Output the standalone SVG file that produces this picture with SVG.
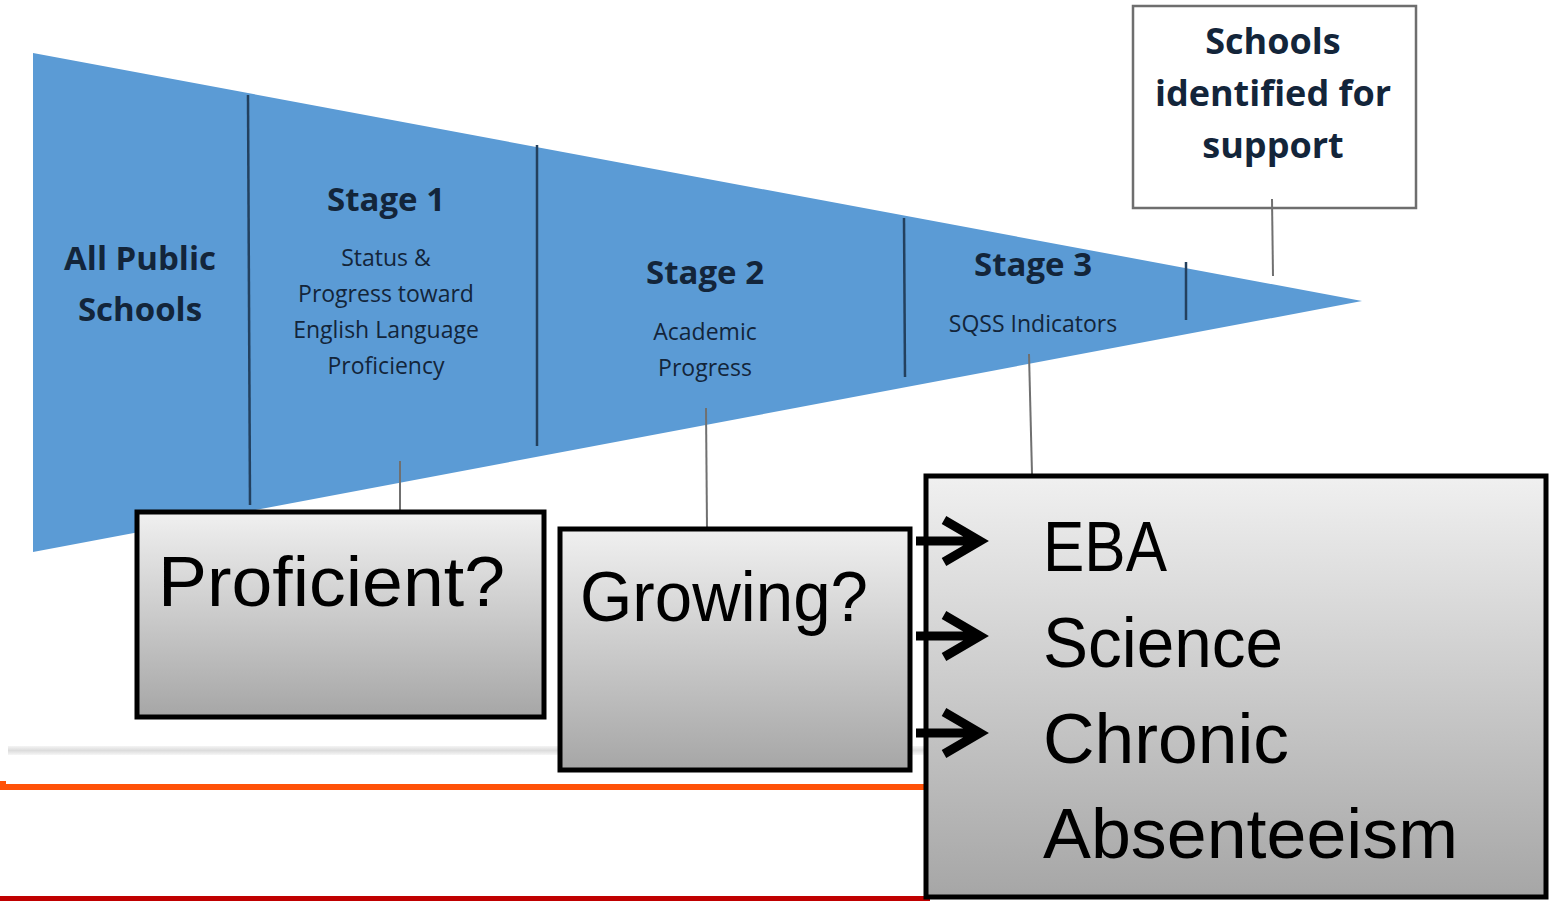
<svg xmlns="http://www.w3.org/2000/svg" width="1549" height="901" viewBox="0 0 1549 901">
<defs>
<linearGradient id="boxg" x1="0" y1="0" x2="0" y2="1">
<stop offset="0" stop-color="#f0f0f0"/>
<stop offset="1" stop-color="#a6a6a6"/>
</linearGradient>
<linearGradient id="greyline" x1="0" y1="0" x2="0" y2="1">
<stop offset="0" stop-color="#f4f4f4"/>
<stop offset="0.5" stop-color="#dcdcdc"/>
<stop offset="1" stop-color="#f6f6f6"/>
</linearGradient>
<style>
.div{stroke:#23405e;stroke-width:2.5;fill:none}
.con{stroke:#707070;stroke-width:2;fill:none}
.ft{font-family:"Open Sans","Liberation Sans",sans-serif;fill:#13253a;text-anchor:middle}
.b{font-weight:bold}
.big{font-family:"Liberation Sans",Arial,sans-serif;font-size:70px;fill:#000}
.box{fill:url(#boxg);stroke:#000;stroke-width:5}
.arr{stroke:#000;fill:none;stroke-width:9}
</style>
</defs>
<rect width="1549" height="901" fill="#fff"/>
<g id="background-lines">
<rect x="8" y="746" width="940" height="9" fill="url(#greyline)"/>
<rect x="0" y="784" width="930" height="6" fill="#ff5208"/>
<rect x="0" y="781" width="6" height="6" fill="#ff5208"/>
<rect x="0" y="896" width="930" height="5" fill="#c00000"/>
</g>
<g id="funnel">
<polygon points="33,53 1362,301 33,552" fill="#5b9bd5"/>
<line class="div" x1="248" y1="95" x2="250" y2="505"/>
<line class="div" x1="537" y1="145" x2="537" y2="446"/>
<line class="div" x1="904" y1="218" x2="905" y2="377"/>
<line class="div" x1="1186" y1="262" x2="1186" y2="320"/>
</g>
<g id="all-public">
<text class="ft b" font-size="33" x="140" y="270">All Public</text>
<text class="ft b" font-size="33" x="140" y="321">Schools</text>
</g>
<g id="stage1">
<text class="ft b" font-size="33" x="386" y="211">Stage 1</text>
<text class="ft" font-size="23" x="386" y="266">Status &amp;</text>
<text class="ft" font-size="23" x="386" y="302">Progress toward</text>
<text class="ft" font-size="23" x="386" y="338">English Language</text>
<text class="ft" font-size="23" x="386" y="374">Proficiency</text>
</g>
<g id="stage2">
<text class="ft b" font-size="33" x="705" y="284">Stage 2</text>
<text class="ft" font-size="23" x="705" y="340">Academic</text>
<text class="ft" font-size="23" x="705" y="376">Progress</text>
</g>
<g id="stage3">
<text class="ft b" font-size="33" x="1033" y="276">Stage 3</text>
<text class="ft" font-size="23" x="1033" y="332">SQSS Indicators</text>
</g>
<g id="schools-identified">
<rect x="1133" y="6" width="283" height="202" fill="#fff" stroke="#6e6e6e" stroke-width="2.5"/>
<text class="ft b" font-size="36" x="1273" y="54" fill="#222">Schools</text>
<text class="ft b" font-size="36" x="1273" y="106" fill="#222">identified for</text>
<text class="ft b" font-size="36" x="1273" y="158" fill="#222">support</text>
</g>
<g id="connectors">
<line class="con" x1="400" y1="461" x2="400" y2="512"/>
<line class="con" x1="706" y1="408" x2="707" y2="528"/>
<line class="con" x1="1029" y1="354" x2="1032" y2="474"/>
<line class="con" x1="1272" y1="199" x2="1273" y2="276"/>
</g>
<g id="proficient">
<rect class="box" x="137" y="512" width="407" height="205"/>
<text class="big" x="158" y="606" textLength="347" lengthAdjust="spacingAndGlyphs">Proficient?</text>
</g>
<g id="growing">
<rect class="box" x="560" y="529" width="350" height="241"/>
<text class="big" x="580" y="621" textLength="288" lengthAdjust="spacingAndGlyphs">Growing?</text>
</g>
<g id="sqss-box">
<rect class="box" x="926" y="476" width="620" height="421"/>
<text class="big" x="1043" y="571" textLength="124" lengthAdjust="spacingAndGlyphs">EBA</text>
<text class="big" x="1043" y="667" textLength="240" lengthAdjust="spacingAndGlyphs">Science</text>
<text class="big" x="1043" y="763" textLength="246" lengthAdjust="spacingAndGlyphs">Chronic</text>
<text class="big" x="1043" y="858" textLength="415" lengthAdjust="spacingAndGlyphs">Absenteeism</text>
</g>
<g id="arrows">
<path class="arr" d="M916 541 H978 M944 520 L980 541 L944 562"/>
<path class="arr" d="M916 636 H978 M944 615 L980 636 L944 657"/>
<path class="arr" d="M916 733 H978 M944 712 L980 733 L944 754"/>
</g>
</svg>
